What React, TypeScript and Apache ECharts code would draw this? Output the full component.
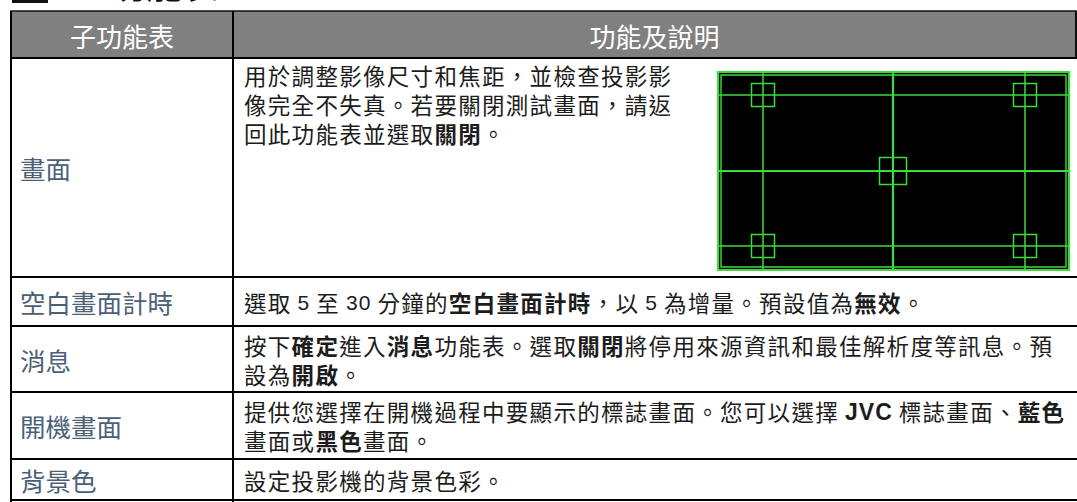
import React, { useEffect, useRef } from "react";
import * as echarts from "echarts";

// ---- content (table data) ----
const TITLE_NUM = "1";
const TITLE_TEXT = "功能表";
const HEADERS = ["子功能表", "功能及說明"];
const SUBMENUS = ["畫面", "空白畫面計時", "消息", "開機畫面", "背景色"];
// "**" marks bold runs; each inner array is one row's lines
const DESC_ROW1 = ["用於調整影像尺寸和焦距，並檢查投影影", "像完全不失真。若要關閉測試畫面，請返", "回此功能表並選取**關閉**。"];
const DESC_ROW2 = ["選取 5 至 30 分鐘的**空白畫面計時**，以 5 為增量。預設值為**無效**。"];
const DESC_ROW3 = ["按下**確定**進入**消息**功能表。選取**關閉**將停用來源資訊和最佳解析度等訊息。預", "設為**開啟**。"];
const DESC_ROW4 = ["提供您選擇在開機過程中要顯示的標誌畫面。您可以選擇 **JVC** 標誌畫面、**藍色**", "畫面或**黑色**畫面。"];
const DESC_ROW5 = ["設定投影機的背景色彩。"];
const DESCRIPTIONS = [DESC_ROW1, DESC_ROW2, DESC_ROW3, DESC_ROW4, DESC_ROW5];

// ---- layout ----
const W = 1077;
const H = 502;
const LEFT = 11;
const DIV_X = 233;
const RIGHT = 1076;
const HEAD_TOP = 11;
const HEAD_BOT = 58;
const ROW_BOUNDS = [58, 277, 326, 392, 459, 500];
const CJK_FONT = "'Noto Sans CJK TC', 'Noto Sans CJK SC', sans-serif";
const MIX_FONT = "'Liberation Sans', Arial, 'Noto Sans CJK TC', sans-serif";
const DESC_FS = 22.5;
const DESC_ADV = 23.8;
const LAT_FS = 21;
const LAT_FS_BOLD = 23;
const LAT_SP = 1;
const SPACE_W = 6;
const LINE_PITCH = 29;
const LABEL_FS = 25.5;
const LABEL_COLOR = "#4b5f77";
const TEXT_COLOR = "#1c1c1c";
const GREEN = "#3ddc3d";

const LAT_W: Record<string, number> = { J: 0.556, V: 0.667, C: 0.722 };

function isCJK(ch: string) {
  return ch.charCodeAt(0) > 0x2e80;
}

function lineGlyphs(line: string, x0: number, y: number): any[] {
  const out: any[] = [];
  const parts = line.split("**");
  let x = x0;
  parts.forEach((part, pi) => {
    const bold = pi % 2 === 1;
    for (const ch of part) {
      if (isCJK(ch)) {
        out.push({
          type: "text",
          x,
          y,
          silent: true,
          style: {
            text: ch,
            fontSize: DESC_FS,
            fontFamily: CJK_FONT,
            fontWeight: bold ? "bold" : "normal",
            fill: TEXT_COLOR,
            align: "left",
            verticalAlign: "middle",
          },
        });
        x += DESC_ADV;
      } else if (ch === " ") {
        x += SPACE_W;
      } else {
        const fs = bold ? LAT_FS_BOLD : LAT_FS;
        const w = (LAT_W[ch] ?? 0.556) * fs + LAT_SP;
        out.push({
          type: "text",
          x,
          y: y + 1,
          silent: true,
          style: {
            text: ch,
            fontSize: fs,
            fontFamily: MIX_FONT,
            fontWeight: bold ? "bold" : "normal",
            fill: TEXT_COLOR,
            align: "left",
            verticalAlign: "middle",
          },
        });
        x += w;
      }
    }
  });
  return out;
}

function testPattern(): any[] {
  const x0 = 718, y0 = 72, x1 = 1069, y1 = 270;
  const vx = [763, 893, 1025];
  const hy = [95, 171, 246];
  const els: any[] = [];
  els.push({ type: "rect", shape: { x: x0, y: y0, width: x1 - x0, height: y1 - y0 }, style: { fill: "#000", stroke: GREEN, lineWidth: 2.2 } });
  els.push({ type: "rect", shape: { x: x0 + 3, y: y0 + 3, width: x1 - x0 - 6, height: y1 - y0 - 6 }, style: { fill: "none", stroke: GREEN, lineWidth: 1.4 } });
  vx.forEach((x, i) => {
    els.push({ type: "line", shape: { x1: x, y1: y0, x2: x, y2: y1 }, style: { stroke: GREEN, lineWidth: i === 1 ? 2.2 : 1.5 } });
  });
  hy.forEach((y, i) => {
    els.push({ type: "line", shape: { x1: x0, y1: y, x2: x1, y2: y }, style: { stroke: GREEN, lineWidth: i === 1 ? 2.2 : 1.5 } });
  });
  const sq = (cx: number, cy: number, s: number) =>
    els.push({ type: "rect", shape: { x: cx - s / 2, y: cy - s / 2, width: s, height: s }, style: { fill: "none", stroke: GREEN, lineWidth: 1.5 } });
  sq(vx[0], hy[0], 23);
  sq(vx[2], hy[0], 23);
  sq(vx[0], hy[2], 23);
  sq(vx[2], hy[2], 23);
  sq(vx[1], hy[1], 27);
  return els;
}

function buildGraphics(): any[] {
  const els: any[] = [];
  // title (cut off at top, as in the reference)
  els.push({ type: "rect", shape: { x: 12, y: -30, width: 36, height: 33 }, style: { fill: "#111" } });
  els.push({ type: "text", x: 71, y: -14, style: { text: TITLE_NUM, fontSize: 36, fontFamily: "'DejaVu Sans', sans-serif", fill: "#111", align: "center", verticalAlign: "middle" } });
  els.push({ type: "text", x: 110, y: -17, style: { text: TITLE_TEXT, fontSize: 36, fontFamily: CJK_FONT, fill: "#111", align: "left", verticalAlign: "middle" } });

  // header
  els.push({ type: "rect", shape: { x: LEFT, y: HEAD_TOP, width: RIGHT - LEFT, height: HEAD_BOT - HEAD_TOP }, style: { fill: "#808080", stroke: "#111", lineWidth: 1.5 } });
  els.push({ type: "text", x: (LEFT + DIV_X) / 2, y: (HEAD_TOP + HEAD_BOT) / 2 + 1, style: { text: HEADERS[0], fontSize: 26, fontFamily: CJK_FONT, fill: "#fff", align: "center", verticalAlign: "middle" } });
  els.push({ type: "text", x: (DIV_X + RIGHT) / 2, y: (HEAD_TOP + HEAD_BOT) / 2 + 1, style: { text: HEADERS[1], fontSize: 26, fontFamily: CJK_FONT, fill: "#fff", align: "center", verticalAlign: "middle" } });

  // test pattern picture in row 1
  els.push(...testPattern());

  // rows
  SUBMENUS.forEach((label, i) => {
    const top = ROW_BOUNDS[i];
    const bot = ROW_BOUNDS[i + 1];
    els.push({ type: "text", x: 20, y: (top + bot) / 2, style: { text: label, fontSize: LABEL_FS, fontFamily: CJK_FONT, fill: LABEL_COLOR, align: "left", verticalAlign: "middle" } });
    const lines = DESCRIPTIONS[i];
    let y0: number;
    if (i === 0) y0 = top + 17;
    else y0 = (top + bot) / 2 - ((lines.length - 1) * LINE_PITCH) / 2;
    lines.forEach((ln, li) => {
      els.push(...lineGlyphs(ln, 244, y0 + li * LINE_PITCH));
    });
  });

  // grid lines
  const L = (x1: number, y1: number, x2: number, y2: number, w: number) =>
    els.push({ type: "line", shape: { x1, y1, x2, y2 }, style: { stroke: "#000", lineWidth: w } });
  L(LEFT, HEAD_TOP, LEFT, H, 2);
  L(DIV_X, HEAD_TOP, DIV_X, H, 2);
  L(RIGHT, HEAD_TOP, RIGHT, HEAD_BOT, 1.5);
  ROW_BOUNDS.forEach((y) => L(LEFT, y, W, y, 2.2));
  return els;
}

export default function App() {
  const ref = useRef<HTMLDivElement>(null);
  useEffect(() => {
    if (!ref.current) return;
    const chart = echarts.init(ref.current, null, { renderer: "svg", width: W, height: H });
    chart.setOption({
      animation: false,
      backgroundColor: "#ffffff",
      graphic: { elements: buildGraphics() },
    });
    return () => chart.dispose();
  }, []);
  return <div ref={ref} style={{ position: "fixed", left: 0, top: 0, width: W, height: H }} />;
}
